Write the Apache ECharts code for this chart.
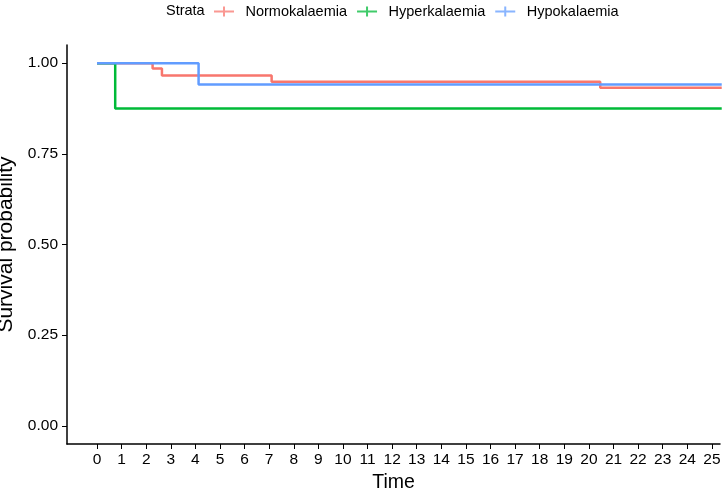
<!DOCTYPE html>
<html>
<head>
<meta charset="utf-8">
<title>Survival curves by strata</title>
<script src="https://cdn.jsdelivr.net/npm/echarts@6/dist/echarts.min.js"></script>
<style>
  html, body { margin: 0; padding: 0; background: #fff; }
  #chart { width: 724px; height: 491px; }
</style>
</head>
<body>
<div id="chart"></div>
<script>
// Kaplan-Meier step points (time, survival)
const strataNames = ['Normokalaemia', 'Hyperkalaemia', 'Hypokalaemia'];
const strataColors = ['#F8766D', '#00BA38', '#619CFF'];

const normoTime = [0, 2.26, 2.64, 7.1, 20.46, 25.4];
const normoSurv = [1, 0.985, 0.966, 0.949, 0.932, 0.932];

const hyperTime = [0, 0.74, 25.4];
const hyperSurv = [1, 0.875, 0.875];

const hypoTime = [0, 4.13, 25.4];
const hypoSurv = [1, 0.941, 0.941];

const xTicks = Array.from({ length: 26 }, (_, i) => i);
const yTicks = [0, 0.25, 0.5, 0.75, 1];

const zip = (t, s) => t.map((v, i) => [v, s[i]]);
const curves = [zip(normoTime, normoSurv), zip(hyperTime, hyperSurv), zip(hypoTime, hypoSurv)];

// small "+" like ggplot's censor legend key
const crossIcon = 'path://M0,4 H9 V0 H11 V4 H20 V6 H11 V10 H9 V6 H0 Z';

const chart = echarts.init(document.getElementById('chart'), null, { renderer: 'canvas' });

const option = {
    animation: false,
    textStyle: { fontFamily: 'Liberation Sans, Arial, sans-serif' },
    graphic: [{
        type: 'text',
        left: 166,
        top: 3,
        style: { text: 'Strata', fontSize: 14.5, fill: '#000', fontFamily: 'Liberation Sans, Arial, sans-serif' }
    }],
    legend: {
        top: 4,
        left: 214,
        padding: 0,
        icon: crossIcon,
        itemWidth: 21,
        itemHeight: 10,
        itemGap: 10,
        itemStyle: { opacity: 0.75 },
        textStyle: { fontSize: 14.5, color: '#000', padding: [0, 0, 0, 6] },
        data: strataNames
    },
    // fixed plot box, no auto shrinking for labels
    grid: { left: 67, right: 4, top: 45, bottom: 47, containLabel: false, outerBoundsMode: 'none' },
    xAxis: {
        type: 'value',
        min: -1.22,
        max: 25.33,
        name: 'Time',
        nameLocation: 'middle',
        nameGap: 28,
        nameTextStyle: { fontSize: 19.5, color: '#000' },
        axisLine: { onZero: false, lineStyle: { color: '#000', width: 1.5 } },
        axisTick: { length: 5, customValues: xTicks, lineStyle: { color: '#000' } },
        axisLabel: { customValues: xTicks, fontSize: 15.5, color: '#000', margin: 8 },
        splitLine: { show: false }
    },
    yAxis: {
        type: 'value',
        min: -0.05,
        max: 1.05,
        name: 'Survival probability',
        nameLocation: 'middle',
        nameGap: 41,
        nameTextStyle: { fontSize: 21, color: '#000' },
        axisLine: { show: true, onZero: false, lineStyle: { color: '#000', width: 1.5 } },
        axisTick: { show: true, length: 5, customValues: yTicks, lineStyle: { color: '#000' } },
        axisLabel: {
            customValues: yTicks,
            fontSize: 15.5,
            color: '#000',
            margin: 9,
            formatter: v => v.toFixed(2)
        },
        splitLine: { show: false }
    },
    series: strataNames.map((name, i) => ({
        name: name,
        type: 'line',
        step: 'end',
        data: curves[i],
        symbol: 'none',
        clip: true,
        color: strataColors[i],
        lineStyle: { width: 2.5, color: strataColors[i] },
        z: i === 2 ? 3 : 2
    }))
};

chart.setOption(option);
</script>
</body>
</html>
